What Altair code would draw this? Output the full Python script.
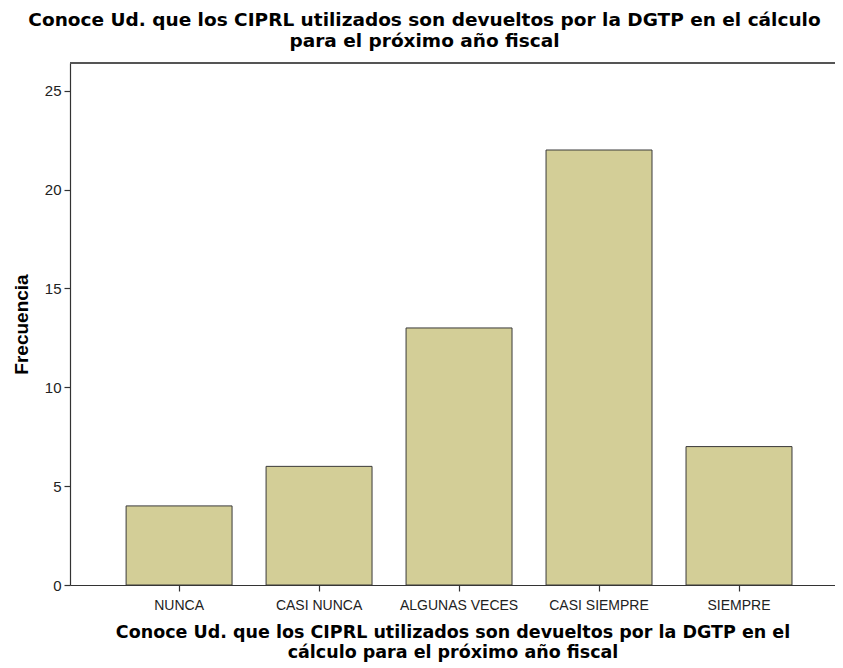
import altair as alt
import pandas as pd

categories = ["NUNCA", "CASI NUNCA", "ALGUNAS VECES", "CASI SIEMPRE", "SIEMPRE"]
frecuencias = [4, 6, 13, 22, 7]
y_ticks = [0, 5, 10, 15, 20, 25]

df = pd.DataFrame({"cat": categories, "freq": frecuencias})

W, H = 765, 522
FONT = "Liberation Sans"
TFONT = "DejaVu Sans"

bars = alt.Chart(df).mark_bar(
    color="#D3CE97", stroke="#3a3a3a", strokeWidth=1
).encode(
    x=alt.X("cat:N", sort=categories,
            scale=alt.Scale(paddingInner=0.243, paddingOuter=0.354, align=0.566),
            axis=alt.Axis(
                title=["Conoce Ud. que los CIPRL utilizados son devueltos por la DGTP en el",
                       "cálculo para el próximo año fiscal"],
                titleFont=TFONT, titleFontSize=17.5, titleFontWeight="bold", titleColor="#000",
                titlePadding=11, titleLineHeight=20,
                labelAngle=0, labelFont=FONT, labelFontSize=14, labelColor="#222",
                labelPadding=7, tickSize=6, tickColor="#333", domainColor="#333",
                tickWidth=1.2, domainWidth=1.2)),
    y=alt.Y("freq:Q",
            scale=alt.Scale(domain=[0, 26.4], nice=False, zero=True),
            axis=alt.Axis(
                title="Frecuencia", values=y_ticks, grid=False,
                titleFont=FONT, titleFontSize=19, titleFontWeight="bold", titleColor="#000",
                titlePadding=13,
                labelFont=FONT, labelFontSize=15, labelColor="#222", labelPadding=3,
                tickSize=6, tickColor="#333", domainColor="#333",
                tickWidth=1.2, domainWidth=1.2)),
)

top_border = alt.Chart(df).mark_rule(color="#555", strokeWidth=2).encode(
    y=alt.value(0), x=alt.value(0), x2=alt.value(W + 20)
)

chart = alt.layer(bars, top_border).properties(
    width=W, height=H,
    title=alt.TitleParams(
        ["Conoce Ud. que los CIPRL utilizados son devueltos por la DGTP en el cálculo",
         "para el próximo año fiscal"],
        font=TFONT, fontSize=18.5, fontWeight="bold", color="#000",
        anchor="middle", frame="group", dx=-28, offset=12, lineHeight=21),
    autosize=alt.AutoSizeParams(type="none"),
    padding={"left": 62, "top": 55, "right": 0, "bottom": 80},
).configure_view(
    fill="#F0F0F0", stroke=None
).configure(background="white")

chart.save("out.html", embed_options={"renderer": "svg", "actions": False})
